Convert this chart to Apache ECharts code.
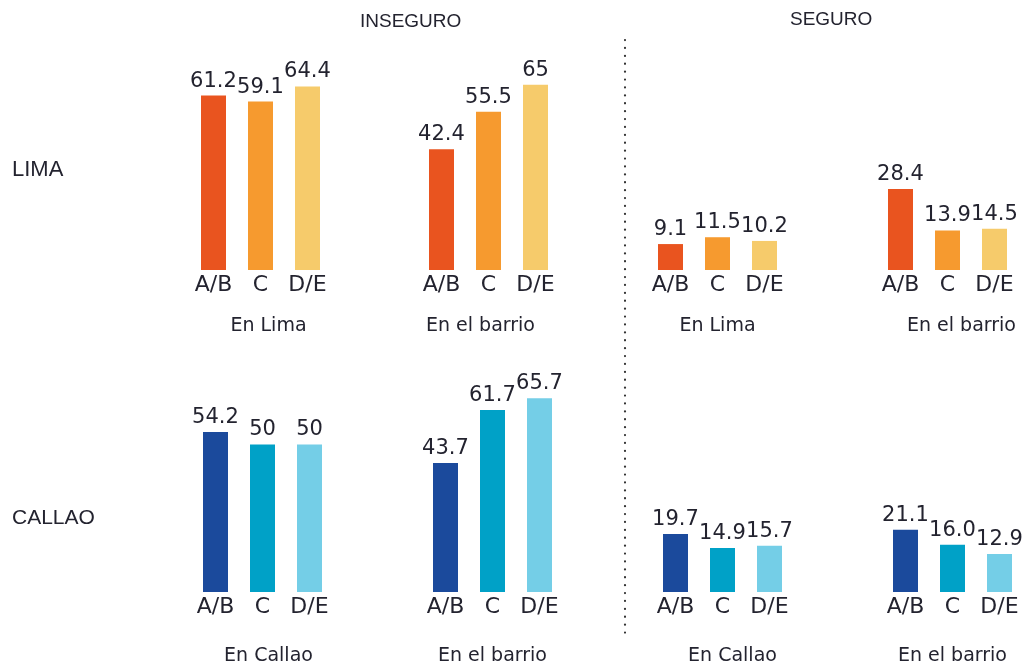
<!DOCTYPE html>
<html>
<head>
<meta charset="utf-8">
<script src="https://cdn.jsdelivr.net/npm/echarts@6/dist/echarts.min.js"></script>
<style>
	html, body { margin: 0; padding: 0; background: #fff; }
	#chart { width: 1033px; height: 668px; }
</style>
</head>
<body>
<div id="chart"></div>
<script>
// values as printed on the chart
var categories = ['A/B', 'C', 'D/E'];
var limaInseguroLima = ['61.2', '59.1', '64.4'];
var limaInseguroBarrio = ['42.4', '55.5', '65'];
var limaSeguroLima = ['9.1', '11.5', '10.2'];
var limaSeguroBarrio = ['28.4', '13.9', '14.5'];
var callaoInseguroCallao = ['54.2', '50', '50'];
var callaoInseguroBarrio = ['43.7', '61.7', '65.7'];
var callaoSeguroCallao = ['19.7', '14.9', '15.7'];
var callaoSeguroBarrio = ['21.1', '16.0', '12.9'];

var limaColors = ['#E9541F', '#F69A2F', '#F6CB6B'];
var callaoColors = ['#1B4A9C', '#00A1C7', '#74CEE7'];
var textColor = '#23232f';
var font = 'Liberation Sans, Arial, sans-serif';
var wideFont = 'DejaVu Sans, sans-serif';

// shift = nudge of the group name to the right (px)
var panels = [
	{ data: limaInseguroLima, name: 'En Lima', left: 190, top: 70.5, height: 199.5, gap: 47, shift: 8, colors: limaColors },
	{ data: limaInseguroBarrio, name: 'En el barrio', left: 418, top: 70.5, height: 199.5, gap: 47, shift: -8, colors: limaColors },
	{ data: limaSeguroLima, name: 'En Lima', left: 647, top: 70.5, height: 199.5, gap: 47, shift: 0, colors: limaColors },
	{ data: limaSeguroBarrio, name: 'En el barrio', left: 877, top: 70.5, height: 199.5, gap: 47, shift: 14, colors: limaColors },
	{ data: callaoInseguroCallao, name: 'En Callao', left: 192, top: 385.5, height: 206.5, gap: 55, shift: 6, colors: callaoColors },
	{ data: callaoInseguroBarrio, name: 'En el barrio', left: 422, top: 385.5, height: 206.5, gap: 55, shift: 0, colors: callaoColors },
	{ data: callaoSeguroCallao, name: 'En Callao', left: 652, top: 385.5, height: 206.5, gap: 55, shift: 10, colors: callaoColors },
	{ data: callaoSeguroBarrio, name: 'En el barrio', left: 882, top: 385.5, height: 206.5, gap: 55, shift: 0, colors: callaoColors }
];

var grids = [], xAxes = [], yAxes = [], series = [];
panels.forEach(function(p, i) {
	grids.push({ left: p.left, top: p.top, width: 141, height: p.height });
	var pad = p.shift > 0 ? [0, 0, 0, p.shift * 2] : [0, -p.shift * 2, 0, 0];
	xAxes.push({
		type: 'category',
		gridIndex: i,
		data: categories,
		axisLine: { show: false },
		axisTick: { show: false },
		axisLabel: { interval: 0, margin: 4, fontSize: 22, color: textColor, fontFamily: wideFont },
		name: p.name,
		nameLocation: 'middle',
		nameGap: p.gap,
		nameTextStyle: { fontSize: 19, color: textColor, fontFamily: wideFont, padding: pad }
	});
	yAxes.push({ type: 'value', gridIndex: i, min: 0, max: 70, show: false });
	series.push({
		type: 'bar',
		xAxisIndex: i,
		yAxisIndex: i,
		barWidth: 25,
		data: p.data.map(function(v, j) {
			return { value: parseFloat(v), itemStyle: { color: p.colors[j] } };
		}),
		label: {
			show: true,
			position: 'top',
			distance: 4,
			fontSize: 21,
			color: textColor,
			fontFamily: wideFont,
			formatter: function(params) { return p.data[params.dataIndex]; }
		}
	});
});

var chart = echarts.init(document.getElementById('chart'));
chart.setOption({
	animation: false,
	grid: grids,
	xAxis: xAxes,
	yAxis: yAxes,
	series: series,
	graphic: [
		{ type: 'text', left: 360, top: 12, style: { text: 'INSEGURO', fontSize: 19, fill: textColor, fontFamily: font } },
		{ type: 'text', left: 790, top: 10, style: { text: 'SEGURO', fontSize: 19, fill: textColor, fontFamily: font } },
		{ type: 'text', left: 12, top: 159, style: { text: 'LIMA', fontSize: 22, fill: textColor, fontFamily: font } },
		{ type: 'text', left: 12, top: 508, style: { text: 'CALLAO', fontSize: 21, fill: textColor, fontFamily: font } },
		{
			type: 'line',
			shape: { x1: 625, y1: 40, x2: 625, y2: 640 },
			style: { stroke: '#333', lineWidth: 2.2, lineDash: [0.1, 7.8], lineCap: 'round' }
		}
	]
});
</script>
</body>
</html>
